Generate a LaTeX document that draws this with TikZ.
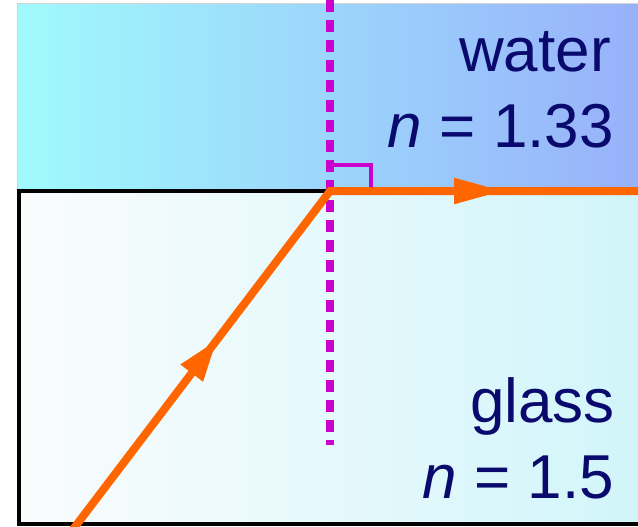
\documentclass[tikz,border=0pt]{standalone}
\usepackage{fontspec}
\setmainfont{Liberation Sans}
\usepackage{xcolor}
\usetikzlibrary{arrows.meta,decorations.markings,positioning}

\definecolor{rayorange}{RGB}{255,102,0}
\definecolor{normalpink}{RGB}{204,0,204}
\definecolor{labelnavy}{RGB}{10,10,110}
\definecolor{waterL}{RGB}{160,250,252}
\definecolor{waterR}{RGB}{152,176,250}
\definecolor{glassL}{RGB}{250,252,253}
\definecolor{glassR}{RGB}{208,245,250}

\begin{document}
\begin{tikzpicture}[x=1pt,y=-1pt,
    lbl/.style={font=\fontsize{62}{70}\selectfont, text=labelnavy, anchor=base east, inner sep=0pt},
    raypath/.style={draw=rayorange, line width=8pt},
    midarrows/.style={postaction={decorate}, decoration={markings,
        mark=at position 0.334 with {\arrow{Triangle[length=42pt,width=26pt]}},
        mark=at position 0.813 with {\arrow{Triangle[length=50pt,width=24pt]}}}}
]
    \useasboundingbox (0,0) rectangle (638,527);
    \clip (0,0) rectangle (638,527);

    % media
    \shade[left color=waterL, right color=waterR, draw=gray!35, line width=1pt] (17,4) rectangle (645,190);
    \shade[left color=glassL, right color=glassR, draw=black, line width=3.5pt] (19,191) rectangle (655,524);

    \coordinate (src) at (65,540);
    \coordinate (hit) at (330,191);
    \coordinate (out) at (645,191);
    \coordinate (ntop) at (330,0);
    \coordinate (nbot) at (330,445);

    % normal and right angle
    \draw[normalpink, line width=8pt, dash pattern=on 12pt off 8pt] (ntop) -- (nbot);
    \draw[normalpink, line width=4pt] (hit) ++(0,-26) -| ++(41,26);

    % ray
    \draw[raypath, midarrows] (src) -- (hit) -- (out);

    \node[lbl] (water) at (611,72) {water};
    \node[lbl] (waterN) at (614,147) {\textit{n} = 1.33};
    \node[lbl] (glass) at (615,422) {glass};
    \node[lbl] (glassN) at (614,498) {\textit{n} = 1.5};
\end{tikzpicture}
\end{document}
